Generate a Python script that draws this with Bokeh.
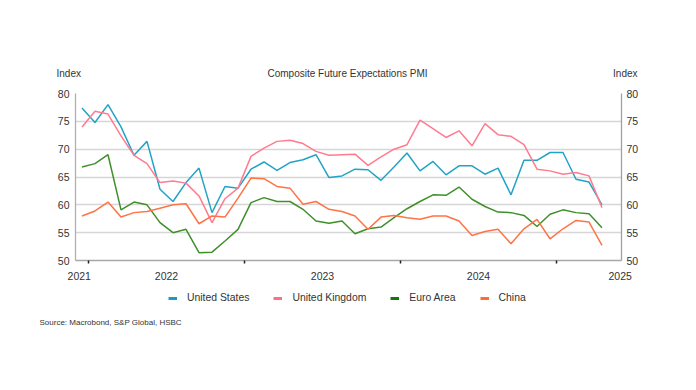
import pandas as pd
from bokeh.plotting import figure
from bokeh.layouts import column
from bokeh.models import (Range1d, LinearAxis, FixedTicker, Legend, LegendItem,
                          ColumnDataSource)
from bokeh.core.properties import value
from bokeh.embed import file_html
from bokeh.resources import INLINE

# ---------------- data (monthly, Dec 2021 - Apr 2025) ----------------
months = pd.date_range("2021-12-01", periods=41, freq="MS")

united_states = [77.4, 74.8, 78.0, 74.0, 68.9, 71.4, 62.8, 60.6, 64.0, 66.6,
                 58.6, 63.3, 63.0, 66.4, 67.7, 66.2, 67.6, 68.1, 69.0, 64.9,
                 65.2, 66.4, 66.3, 64.4, 66.8, 69.3, 66.1, 67.8, 65.4, 67.0,
                 67.0, 65.5, 66.6, 61.8, 68.0, 68.0, 69.4, 69.4, 64.6, 64.1,
                 60.0]
united_kingdom = [74.0, 76.8, 76.3, 72.4, 68.9, 67.4, 64.0, 64.3, 63.9, 61.6,
                  56.8, 61.1, 63.0, 68.7, 70.2, 71.4, 71.6, 71.0, 69.6, 68.9,
                  69.0, 69.1, 67.1, 68.6, 70.0, 70.8, 75.2, 73.7, 72.1, 73.3,
                  70.6, 74.6, 72.6, 72.3, 70.8, 66.4, 66.1, 65.5, 65.8, 65.2,
                  59.5]
euro_area = [66.8, 67.4, 69.0, 59.1, 60.5, 60.0, 56.8, 55.0, 55.6, 51.4,
             51.5, 53.5, 55.6, 60.4, 61.3, 60.6, 60.6, 59.2, 57.1, 56.7,
             57.1, 54.8, 55.7, 56.0, 57.7, 59.3, 60.6, 61.8, 61.7, 63.2,
             61.0, 59.7, 58.7, 58.6, 58.1, 56.1, 58.3, 59.1, 58.6, 58.4,
             55.9]
china = [58.0, 58.9, 60.5, 57.8, 58.6, 58.8, 59.4, 60.0, 60.2, 56.6,
         58.0, 57.8, 61.2, 64.8, 64.7, 63.3, 63.0, 60.1, 60.6, 59.2,
         58.8, 58.0, 55.6, 57.8, 58.1, 57.7, 57.4, 58.0, 58.0, 57.1,
         54.5, 55.2, 55.6, 53.0, 55.7, 57.4, 53.9, 55.7, 57.2, 56.9,
         52.7]

series_names = ["United States", "United Kingdom", "Euro Area", "China"]
series_colors = ["#22A3C6", "#FF7B90", "#3F8F2B", "#FF7345"]
legend_colors = ["#1C9BC4", "#FF6F86", "#0F7A0F", "#FF6A3A"]

title_text = "Composite Future Expectations PMI"
axis_title = "Index"
source_text = "Source: Macrobond, S&P Global, HSBC"
year_labels = ["2021", "2022", "2023", "2024", "2025"]
y_ticks = [50, 55, 60, 65, 70, 75, 80]

# x in months since 1 Jan 2022, plotted mid-month
x = [(d.year - 2022) * 12 + (d.month - 1) + 0.5 for d in months]

FONT = "Liberation Sans"
TXT = "#333333"
W = 690


def blank(height):
    f = figure(width=W, height=height, output_backend="svg", toolbar_location=None,
               x_range=Range1d(0, W), y_range=Range1d(height, 0),
               x_axis_location=None, y_axis_location=None, min_border=0,
               outline_line_color=None, background_fill_color="white",
               border_fill_color="white", frame_align=False)
    f.grid.visible = False
    return f


# ---------------- header ----------------
HH = 80
head = blank(HH)
for tx, txt, al in [(56, axis_title, "left"), (347, title_text, "center"),
                    (637, axis_title, "right")]:
    head.text(x=[tx], y=[73], text=[txt], text_align=al,
              text_baseline="middle", text_font=value(FONT),
              text_font_size="10px", text_color=TXT)

# ---------------- main chart ----------------
p = figure(width=W, height=13 + 167 + 25, output_backend="svg", toolbar_location=None,
           x_range=Range1d(-1, 41), y_range=Range1d(50, 80),
           min_border_left=75, min_border_right=W - 75 - 546, min_border_top=13,
           min_border_bottom=25, outline_line_color=None,
           background_fill_color="white", border_fill_color="white",
           frame_align=False)

src = ColumnDataSource(dict(x=x, us=united_states, uk=united_kingdom,
                            ea=euro_area, cn=china))
for c, col in zip(["us", "uk", "ea", "cn"], series_colors):
    p.line("x", c, source=src, line_color=col, line_width=1.5)

xa = p.xaxis[0]
label_pos = [-0.71, 6, 18, 30, 40.9]
bounds = [(yy - 2022) * 12 for yy in [2022, 2023, 2024, 2025]]
xa.ticker = FixedTicker(ticks=label_pos, minor_ticks=bounds)
xa.major_label_overrides = {pos: lab for pos, lab in zip(label_pos, year_labels)}
xa.major_tick_line_color = None
xa.major_tick_out = 0
xa.major_tick_in = 0
xa.minor_tick_line_color = "#222222"
xa.minor_tick_line_width = 1.5
xa.minor_tick_out = 3
xa.minor_tick_in = 0
xa.axis_line_color = "#a8a8a8"
xa.axis_line_width = 1.3
xa.major_label_text_font = FONT
xa.major_label_text_font_size = "10.5px"
xa.major_label_text_color = TXT
xa.major_label_standoff = 8

ya = p.yaxis[0]
ya.ticker = FixedTicker(ticks=y_ticks)
ya.major_tick_line_color = None
ya.major_tick_out = 0
ya.major_tick_in = 0
ya.minor_tick_line_color = None
ya.axis_line_color = "#b0b0b0"
ya.axis_line_width = 1.3
ya.major_label_text_font = FONT
ya.major_label_text_font_size = "10.5px"
ya.major_label_text_color = TXT
ya.major_label_standoff = 6

ra = LinearAxis(ticker=FixedTicker(ticks=y_ticks))
ra.major_tick_line_color = None
ra.major_tick_out = 0
ra.major_tick_in = 0
ra.minor_tick_line_color = None
ra.axis_line_color = "#a0a0a0"
ra.axis_line_width = 1.3
ra.major_label_text_font = FONT
ra.major_label_text_font_size = "10.5px"
ra.major_label_text_color = TXT
ra.major_label_standoff = 5
p.add_layout(ra, "right")

p.xgrid.grid_line_color = None
p.ygrid.ticker = FixedTicker(ticks=y_ticks)
p.ygrid.grid_line_color = "#d6d6d6"
p.ygrid.grid_line_width = 1.3

# ---------------- footer: legend + source ----------------
FH = 50
foot = blank(FH)
items = []
for name, col in zip(series_names, legend_colors):
    # proxy line kept outside the visible range; only its legend glyph shows
    r = foot.line(x=[-20, -10], y=[-20, -20], line_color=col, line_width=3)
    items.append(LegendItem(label=name, renderers=[r]))
legend = Legend(items=items, orientation="horizontal", location=(168, 32),
                glyph_width=9, glyph_height=10, label_standoff=10, spacing=24,
                border_line_color=None, background_fill_alpha=0,
                label_text_font=FONT, label_text_font_size="10.4px",
                label_text_color=TXT, margin=0, padding=0, label_height=10)
foot.add_layout(legend, "center")
foot.text(x=[39], y=[37], text=[source_text], text_align="left",
          text_baseline="middle", text_font=value(FONT), text_font_size="8px",
          text_color=TXT)

layout = column(head, p, foot, spacing=0)
open("out.html", "w").write(file_html(layout, INLINE))
